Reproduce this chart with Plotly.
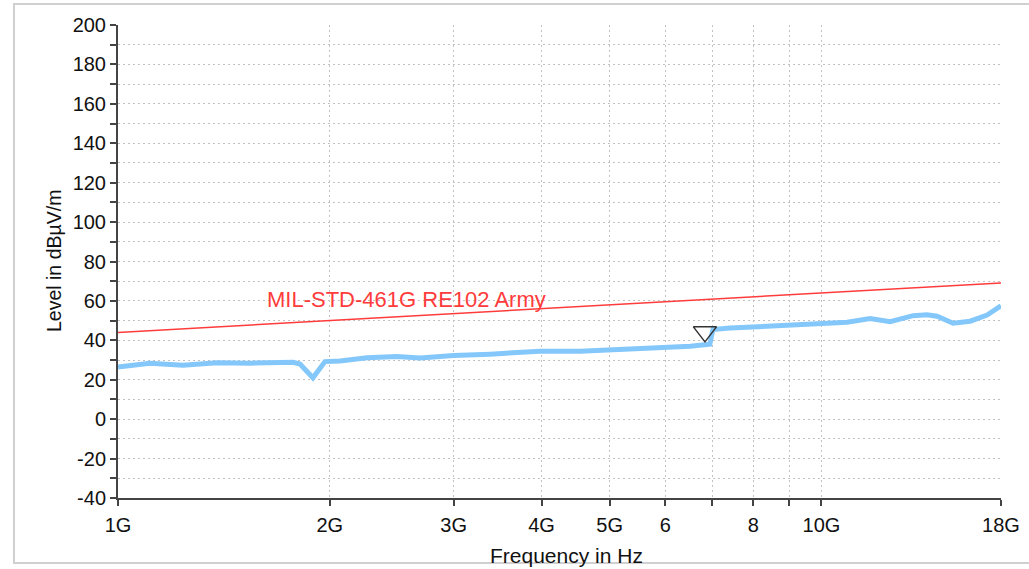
import plotly.graph_objects as go

freq_ghz = [1.00, 1.057, 1.11, 1.237, 1.382, 1.541, 1.774, 1.814, 1.893, 1.969, 2.068, 2.259,
            2.493, 2.688, 3.0, 3.38, 3.98, 4.54, 4.99, 5.71, 6.51, 6.94, 7.01, 7.41, 8.26,
            9.03, 10.05, 10.88, 11.73, 12.52, 13.50, 14.13, 14.60, 15.39, 16.27, 17.20, 18.0]
level = [26.5, 27.5, 28.4, 27.4, 28.6, 28.4, 28.9, 28.0, 21.0, 29.2, 29.5, 31.2,
         31.8, 31.0, 32.3, 33.0, 34.5, 34.5, 35.0, 36.2, 37.0, 38.0, 45.5, 46.2, 47.2,
         47.7, 48.5, 49.2, 51.0, 49.5, 52.5, 53.0, 52.2, 48.7, 49.7, 52.8, 57.5]

# Limit line MIL-STD-461G RE102 Army
limit_ghz = [1.0, 18.0]
limit_db = [44.0, 69.1]

# Marker
marker_ghz = [6.83]
marker_db = [44.3]

xtick_vals_ghz = [1, 2, 3, 4, 5, 6, 7, 8, 9, 10, 18]
xtick_text = ["1G", "2G", "3G", "4G", "5G", "6", "", "8", "", "10G", "18G"]
ytick_vals = [-40, -20, 0, 20, 40, 60, 80, 100, 120, 140, 160, 180, 200]
ytick_text = ["-40", "-20", "0", "20", "40", "60", "80", "100", "120", "140", "160", "180", "200"]

FONT = "Liberation Sans, Arial, sans-serif"
GRID = "#c2c2c2"
AX = "#444444"

fig = go.Figure()
fig.add_trace(go.Scatter(x=[f * 1e9 for f in freq_ghz], y=level, mode="lines",
                         line=dict(color="#84c8fb", width=5), hoverinfo="skip"))
fig.add_trace(go.Scatter(x=[f * 1e9 for f in limit_ghz], y=limit_db, mode="lines",
                         line=dict(color="#ff3b3b", width=1.5)))
fig.add_trace(go.Scatter(x=[f * 1e9 for f in marker_ghz], y=marker_db, mode="markers",
                         marker=dict(symbol="triangle-down-open", size=20,
                                     color="#333333", line=dict(width=1.5, color="#333333"))))

PW, PH = 883, 473
fig.update_layout(
    width=1029, height=569,
    margin=dict(l=118, r=28, t=25, b=71, autoexpand=False),
    paper_bgcolor="white", plot_bgcolor="white",
    showlegend=False,
    font=dict(family=FONT, size=20, color="#111111"),
    xaxis=dict(type="log", range=[9, 9 + 1.2553], automargin=False,
               tickvals=[v * 1e9 for v in xtick_vals_ghz], ticktext=xtick_text,
               ticks="outside", ticklen=6, tickwidth=1.5, tickcolor=AX,
               showline=True, linecolor=AX, linewidth=2,
               showgrid=True, gridcolor=GRID, griddash="2px,3px", gridwidth=1,
               zeroline=False, ticklabelstandoff=2,
               tickfont=dict(family=FONT, size=20, color="#111111")),
    yaxis=dict(range=[-40, 200], tickvals=ytick_vals, ticktext=ytick_text, automargin=False,
               ticks="outside", ticklen=6, tickwidth=1.5, tickcolor=AX,
               showline=True, linecolor=AX, linewidth=2,
               showgrid=True, gridcolor=GRID, griddash="2px,3px", gridwidth=1,
               zeroline=False,
               minor=dict(dtick=10, ticks="outside", ticklen=6, tickwidth=1.5,
                          tickcolor=AX, showgrid=True, gridcolor=GRID,
                          griddash="2px,3px"),
               tickfont=dict(family=FONT, size=20, color="#111111")),
    shapes=[dict(type="rect", xref="paper", yref="paper",
                 x0=(14 - 118) / PW, x1=(1045 - 118) / PW,
                 y0=-(563 - 498) / PH, y1=1 + (25 - 4) / PH,
                 line=dict(color="#d0d0d0", width=2), layer="below")],
    annotations=[
        dict(text="MIL-STD-461G RE102 Army", x=9.209, y=60.5, xref="x", yref="y",
             xanchor="left", yanchor="middle", showarrow=False,
             font=dict(family=FONT, size=22, color="#ff3b3b")),
        dict(text="Level in dBµV/m", x=(54 - 118) / PW, y=(498 - 261) / PH,
             xref="paper", yref="paper",
             textangle=-90, xanchor="center", yanchor="middle", showarrow=False,
             font=dict(family=FONT, size=19.5, color="#111111")),
        dict(text="Frequency in Hz", x=(566 - 118) / PW, y=-(555 - 498) / PH,
             xref="paper", yref="paper",
             xanchor="center", yanchor="middle", showarrow=False,
             font=dict(family=FONT, size=21, color="#111111")),
    ],
)

fig.write_html("out.html", config={"displayModeBar": False},
               post_script="document.body.style.margin='0';")
